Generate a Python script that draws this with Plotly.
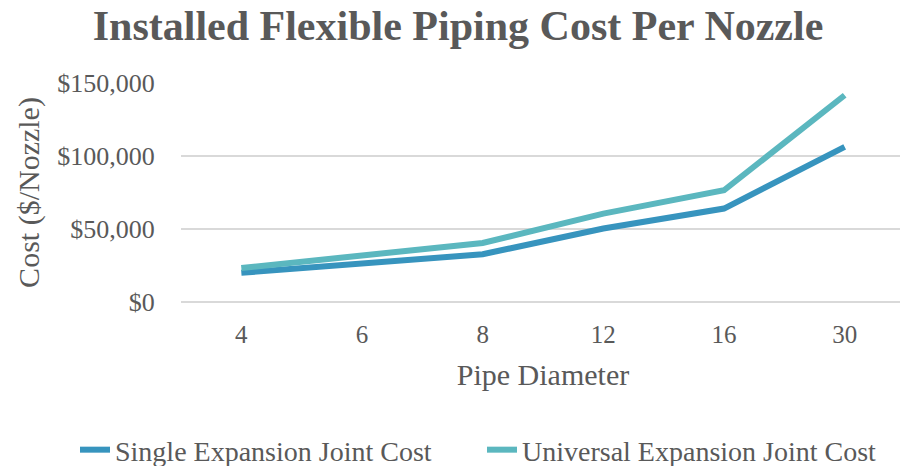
import plotly.graph_objects as go

categories = ["4", "6", "8", "12", "16", "30"]
single_cost = [20000, 26500, 32700, 50300, 64000, 106200]
universal_cost = [23300, 32000, 40400, 60500, 76500, 141600]
y_ticks = [0, 50000, 100000, 150000]
y_tick_labels = ["$0", "$50,000", "$100,000", "$150,000"]

FONT = "Liberation Serif, Times New Roman, serif"
TXT = "#595959"

fig = go.Figure()
fig.add_trace(go.Scatter(x=categories, y=single_cost, mode="lines",
                         name="Single Expansion Joint Cost", legend="legend",
                         line=dict(color="#3794BE", width=6)))
fig.add_trace(go.Scatter(x=categories, y=universal_cost, mode="lines",
                         name="Universal Expansion Joint Cost", legend="legend2",
                         line=dict(color="#5BB7BF", width=6)))

leg_common = dict(orientation="h", xref="container", yref="container",
                  xanchor="left", y=0.035, yanchor="middle",
                  font=dict(family=FONT, size=28, color=TXT),
                  itemwidth=30, bgcolor="rgba(0,0,0,0)")

fig.update_layout(
    width=900, height=458,
    margin=dict(l=173, r=3, t=75, b=164, autoexpand=False),
    paper_bgcolor="white", plot_bgcolor="white",
    font=dict(family=FONT, color=TXT),
    title=dict(text="<b>Installed Flexible Piping Cost Per Nozzle</b>",
               font=dict(family=FONT, size=42, color=TXT),
               x=0.5, xref="container", xanchor="center",
               y=0.962, yref="container", yanchor="middle"),
    showlegend=True,
    legend=dict(leg_common, x=67 / 900),
    legend2=dict(leg_common, x=474 / 900),
    hovermode=False,
)
fig.update_xaxes(type="category", range=[-0.5, 5.5], showgrid=False, zeroline=False, showline=False,
                 tickfont=dict(family=FONT, size=25, color=TXT),
                 ticks="outside", ticklen=10, tickcolor="rgba(0,0,0,0)",
                 title=dict(text="Pipe Diameter", font=dict(family=FONT, size=30, color=TXT),
                            standoff=16))
fig.update_yaxes(range=[0, 150000], tickvals=y_ticks, ticktext=y_tick_labels,
                 showgrid=True, gridcolor="#D9D9D9", gridwidth=1.5,
                 zeroline=True, zerolinecolor="#D9D9D9", zerolinewidth=1.5,
                 showline=False,
                 tickfont=dict(family=FONT, size=26, color=TXT),
                 ticks="outside", ticklen=20, tickcolor="rgba(0,0,0,0)",
                 title=dict(text="Cost ($/Nozzle)", font=dict(family=FONT, size=30, color=TXT),
                            standoff=8))

fig.write_html("out.html")
